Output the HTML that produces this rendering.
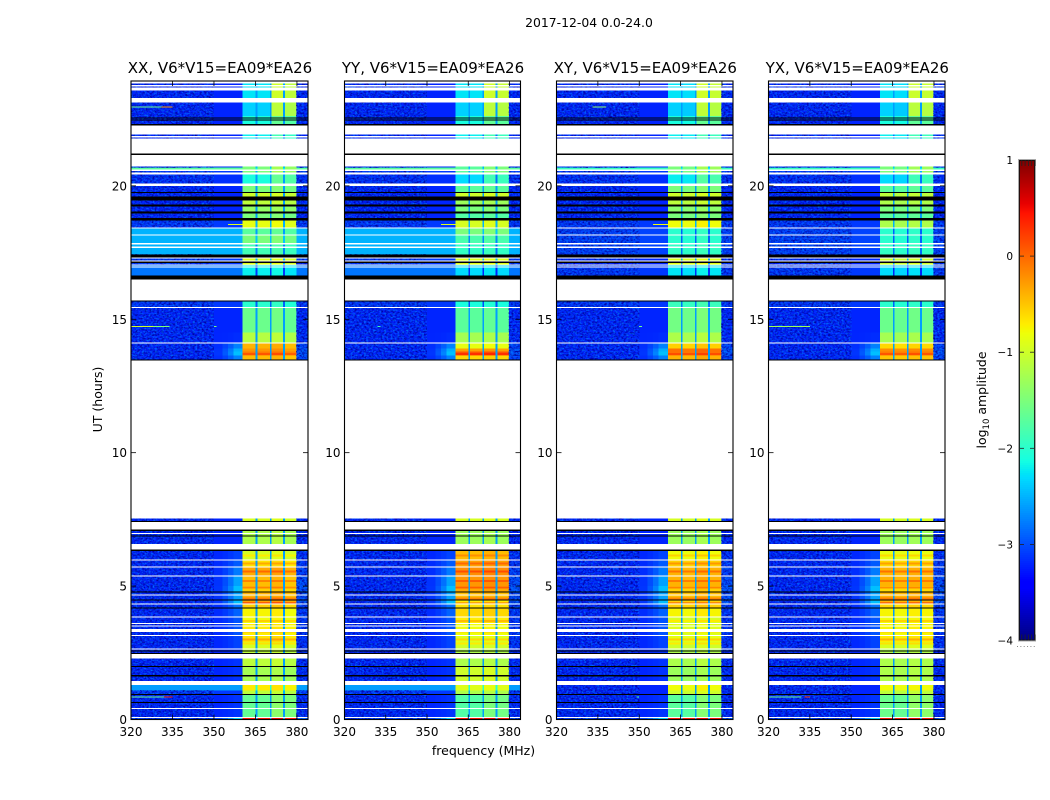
<!DOCTYPE html>
<html>
<head>
<meta charset="utf-8">
<title>2017-12-04 0.0-24.0</title>
<style>
html,body{margin:0;padding:0;background:#fff;}
svg{display:block;}
text{font-family:"DejaVu Sans","Liberation Sans",sans-serif;fill:#000;}
</style>
</head>
<body>
<svg id="figure" xmlns="http://www.w3.org/2000/svg" width="1050" height="800" viewBox="0 0 1050 800">
<defs>
<filter id="speckle-dark" x="0" y="0" width="1" height="1" color-interpolation-filters="sRGB">
<feTurbulence type="fractalNoise" baseFrequency="0.42 0.55" numOctaves="2" seed="7"/>
<feColorMatrix type="matrix" values="0 0 0 0 0  0 0 0 0 0  0 0 0 0 0.62  2.6 0 0 0 -1.05"/>
</filter>
<filter id="speckle-light" x="0" y="0" width="1" height="1" color-interpolation-filters="sRGB">
<feTurbulence type="fractalNoise" baseFrequency="0.45 0.6" numOctaves="2" seed="23"/>
<feColorMatrix type="matrix" values="0 0 0 0 0  0 0 0 0 0.5  0 0 0 0 1  2.2 0 0 0 -1.05"/>
</filter>
</defs>
<rect x="0" y="0" width="1050" height="800" fill="#fff"/>
<text x="589" y="27" font-size="12.4" text-anchor="middle">2017-12-04 0.0-24.0</text>
<text x="483.5" y="755" font-size="12.5" text-anchor="middle">frequency (MHz)</text>
<text x="0" y="0" font-size="12.5" text-anchor="middle" transform="translate(102,399.5) rotate(-90)">UT (hours)</text>
<text x="0" y="0" font-size="12.5" text-anchor="middle" transform="translate(986,400) rotate(-90)">log<tspan font-size="8.5" dy="3">10</tspan><tspan dy="-3"> amplitude</tspan></text>
<g id="panels"></g>
<g id="colorbar"></g>
</svg>
<script>
// ---- chart data (log10 amplitude, UT in hours, frequency in MHz) ----
const polarizations = ["XX", "YY", "XY", "YX"];
const xTicks = [320, 335, 350, 365, 380];
const yTicks = [0, 5, 10, 15, 20];
const colorbarTicks = [1, 0, -1, -2, -3, -4];

// Frequency column edges: low band, roll-up, four sub-bands separated by gaps, high band
const freqEdges = [320, 345, 350, 353, 355, 357, 360.4, 365.1, 365.7, 370.2, 370.8, 374.9, 375.6, 379.8, 384];
const columnKind = ["bg", "bg", "bg", "bg", "bg", "bg", "s0", "gap", "s1", "gap", "s2", "gap", "s3", "hi"];
const columnRollUp = [0, 0, 0.1, 0.3, 0.55, 0.9, 0, 0, 0, 0, 0, 0, 0, 0.3];

// Time segments with a constant level (contiguous edges)
const levelUT = [0, 0.06, 0.96, 1.09, 1.44, 2.01, 2.66, 2.9, 3.14, 3.61, 3.86, 4.2, 4.35, 4.49, 4.8, 5.0, 5.4, 5.7, 6.0, 6.31, 7.06, 7.53, 13.46, 13.635, 13.785, 13.91, 14.13, 14.5, 15.42, 16.635, 17.06, 17.435, 17.85, 18.15, 18.435, 18.8, 19.035, 19.3, 19.6, 19.77, 20.09, 20.51, 20.61, 20.68, 20.73, 21.77, 22.31, 22.62, 23.12, 23.93];
const backgroundCo = [-3.1, -3.2, -3.1, -2.6, -3.2, -3.2, -3.2, -3.2, -3.2, -3.2, -3.2, -3.2, -3.2, -3.2, -3.2, -3.2, -3.2, -3.2, -3.2, -3.2, -3.2, -3.2, -3.2, -3.2, -3.2, -3.2, -3.2, -3.2, -3.1, -2.8, -3.1, -2.5, -2.5, -2.5, -3.1, -3.2, -3.2, -3.2, -3.2, -3.2, -3.15, -3.1, -1.7, -3.2, -3.2, -3.2, -3.2, -3.2, -3.2];
const backgroundCross = [-3.1, -3.2, -3.2, -3.2, -3.2, -3.2, -3.2, -3.2, -3.2, -3.2, -3.2, -3.2, -3.2, -3.2, -3.2, -3.2, -3.2, -3.2, -3.2, -3.2, -3.2, -3.2, -3.2, -3.2, -3.2, -3.2, -3.2, -3.2, -3.1, -3.1, -3.2, -3.05, -3.05, -3.05, -3.1, -3.2, -3.2, -3.2, -3.2, -3.2, -3.15, -3.1, -1.9, -3.2, -3.2, -3.2, -3.2, -3.2, -3.2];
const bandXX = [0.45, -1.45, -1.1, -0.7, -1.25, -1.1, -0.95, -0.65, -0.7, -0.8, -0.75, -0.55, -0.3, -0.4, -0.55, -0.45, -0.35, -0.65, -0.95, -1.2, -0.95, -1.5, -0.45, -0.1, -0.25, -0.4, -1.15, -1.6, -2.0, -2.2, -0.9, -1.85, -1.5, -1.7, -0.85, -1.5, -1.35, -1.1, -1.0, -1.5, -1.7, -1.3, -1.3, -1.3, -1.8, -1.9, -1.7, -1.15, -1.05];
const bandYY = [0.45, -1.55, -1.2, -0.9, -1.0, -1.2, -1.0, -0.9, -0.8, -0.7, -0.6, -0.65, -0.7, -0.45, -0.35, -0.25, -0.2, -0.3, -0.45, -1.3, -0.95, -1.5, -0.6, 0.1, -0.3, -0.85, -1.25, -1.7, -2.1, -2.3, -0.9, -1.95, -1.8, -1.5, -0.95, -1.75, -1.5, -1.3, -1.0, -1.7, -1.9, -1.5, -1.5, -1.5, -1.8, -1.9, -1.7, -1.15, -1.05];
const bandXY = [0.45, -1.5, -1.0, -0.8, -1.3, -1.2, -1.0, -0.85, -0.9, -0.95, -0.75, -0.55, -0.55, -0.45, -0.55, -0.4, -0.4, -0.55, -0.8, -1.3, -0.95, -1.5, -0.4, -0.05, -0.05, -0.55, -1.2, -1.55, -1.9, -2.25, -0.9, -1.95, -2.0, -2.0, -0.8, -1.5, -1.4, -1.1, -1.0, -1.5, -1.8, -1.3, -1.3, -1.3, -1.8, -1.9, -1.7, -1.15, -1.05];
const bandYX = [0.45, -1.4, -1.1, -0.8, -1.2, -1.2, -0.95, -0.7, -0.75, -0.8, -0.75, -0.6, -0.4, -0.4, -0.6, -0.4, -0.4, -0.6, -0.85, -1.3, -0.95, -1.5, -0.5, -0.1, -0.2, -0.6, -1.25, -1.6, -2.0, -2.3, -1.0, -1.95, -2.0, -2.0, -1.2, -1.7, -1.5, -1.2, -1.1, -1.7, -1.9, -1.3, -1.3, -1.3, -1.8, -1.9, -1.7, -1.15, -1.05];
const rollUpLevel = [1.0, 0.1, 0, 0, 0.1, 0.1, 0.2, 0.2, 0.3, 0.3, 0.4, 0.5, 1.0, 0.8, 1.0, 0.8, 0.55, 0.35, 0.2, 0, 0, 0, 0.6, 1.0, 0.9, 0.6, 0.05, 0, 0, 0, 0, 0, 0, 0, 0, 0, 0, 0, 0, 0, 0, 0, 0, 0, 0, 0, 0, 0, 0];
const lowerSubbandOffset = [0, -0.2, 0, 0, 0, 0, 0, 0, 0, 0, 0, 0, 0, 0, 0, 0, 0, 0, 0, 0, 0, 0, 0, 0, 0, 0, 0, 0, 0, 0, 0, 0, 0, 0, 0, 0, 0, 0, 0, 0, -0.4, -0.2, -0.2, -0.2, 0, -0.3, -0.4, -1.2, -1.2];

// Sub-band gain offsets per polarization
const subbandOffsetXX = [0, 0, 0.05, -0.05];
const subbandOffsetYY = [0, 0, 0.05, 0];
const subbandOffsetXY = [0, -0.03, 0.06, 0];
const subbandOffsetYX = [0, -0.03, 0.03, 0];

// Short bright time stripes inside the pass-band
const stripeUT = [2.85, 3.0, 3.3, 3.7, 4.38, 4.55, 4.95, 5.2, 5.55, 5.85, 6.15, 13.7];
const stripeBoost = [0.3, 0.3, 0.25, 0.25, 0.35, 0.3, 0.4, 0.3, 0.35, 0.3, 0.25, 0.2];

// Time ranges with no data (white)
const noDataStart = [0.05, 0.41, 1.29, 2.29, 2.64, 3.14, 3.275, 3.50, 3.575, 3.84, 4.325, 4.65, 5.375, 5.70, 5.96, 6.375, 6.95, 7.125, 7.525, 14.10, 15.42, 15.71, 16.95, 17.02, 17.16, 17.275, 17.67, 17.81, 18.15, 18.40, 20.0, 20.43, 20.56, 20.73, 21.21, 21.81, 21.93, 23.12, 23.58, 23.73, 23.83];
const noDataEnd = [0.09, 0.44, 1.44, 2.46, 2.66, 3.16, 3.40, 3.525, 3.61, 3.86, 4.35, 4.69, 5.40, 5.74, 6.0, 6.575, 6.99, 7.40, 13.46, 14.125, 15.46, 16.485, 16.985, 17.06, 17.2, 17.31, 17.735, 17.85, 18.185, 18.435, 20.085, 20.51, 20.61, 21.16, 21.77, 21.86, 22.26, 23.30, 23.68, 23.78, 23.93];

// Time ranges flagged to zero (black)
const flaggedStart = [0.64, 0.94, 1.62, 1.975, 2.46, 2.55, 4.175, 4.46, 4.76, 6.31, 6.875, 7.06, 7.40, 13.46, 15.67, 16.485, 17.11, 17.31, 18.70, 18.96, 19.235, 19.46, 19.735, 21.16, 22.26, 22.46, 22.53];
const flaggedEnd = [0.66, 0.96, 1.66, 2.01, 2.49, 2.59, 4.20, 4.49, 4.80, 6.375, 6.90, 7.125, 7.44, 13.485, 15.71, 16.635, 17.16, 17.435, 18.80, 19.035, 19.30, 19.61, 19.77, 21.21, 22.31, 22.49, 22.56];

// Narrow RFI streaks
const rfiPol = ["XX", "XX", "XX", "XX", "XX", "XX", "YX", "YX", "YX", "XY", "XX", "YY", "XY", "YY", "XY", "XX", "XY"];
const rfiUT = [22.96, 22.96, 14.72, 14.72, 0.85, 0.85, 0.85, 0.85, 14.72, 22.96, 18.55, 18.55, 18.55, 14.72, 14.72, 14.72, 0.85];
const rfiFreqStart = [320, 331, 320, 328, 320, 332, 320, 333, 320, 333, 355, 355, 355, 332, 350, 350, 349];
const rfiFreqEnd = [331, 335, 328, 334, 332, 335, 332, 335, 335, 338, 360.4, 360.4, 360.4, 333, 351, 351, 350];
const rfiLevel = [-1.6, -0.2, -1.0, -1.5, -1.6, 0.3, -1.6, 0.2, -1.3, -1.4, -0.9, -0.9, -0.8, -1.9, -1.6, -1.5, -1.8];

// ---- axis geometry ----
const bandByPol = { XX: bandXX, YY: bandYY, XY: bandXY, YX: bandYX };
const offsetByPol = { XX: subbandOffsetXX, YY: subbandOffsetYY, XY: subbandOffsetXY, YX: subbandOffsetYX };
const backgroundByPol = { XX: backgroundCo, YY: backgroundCo, XY: backgroundCross, YX: backgroundCross };
const panelBoxes = { XX: [131, 308], YY: [344.5, 520.5], XY: [556.5, 733], YX: [768.5, 945] };
const plotTop = 81, plotBottom = 719.5;
const freqMin = 320, freqMax = 384, utMin = 0, utMax = 23.93;
const SVGNS = "http://www.w3.org/2000/svg";

function yScale(ut) { return plotBottom - (ut - utMin) / (utMax - utMin) * (plotBottom - plotTop); }
function xScale(pol, f) {
  const b = panelBoxes[pol];
  return b[0] + (f - freqMin) / (freqMax - freqMin) * (b[1] - b[0]);
}
function lerp(a, b, t) { return a + (b - a) * t; }
function jetChannel(t, pts) {
  if (t <= pts[0][0]) return pts[0][1];
  for (let i = 1; i < pts.length; i++) {
    if (t <= pts[i][0]) return lerp(pts[i - 1][1], pts[i][1], (t - pts[i - 1][0]) / (pts[i][0] - pts[i - 1][0]));
  }
  return pts[pts.length - 1][1];
}
function jet(v) {
  const t = Math.max(0, Math.min(1, (v + 4) / 5));
  const r = jetChannel(t, [[0, 0], [0.35, 0], [0.66, 1], [0.89, 1], [1, 0.5]]);
  const g = jetChannel(t, [[0, 0], [0.125, 0], [0.375, 1], [0.64, 1], [0.91, 0], [1, 0]]);
  const b = jetChannel(t, [[0, 0.5], [0.11, 1], [0.34, 1], [0.65, 0], [1, 0]]);
  return "rgb(" + Math.round(r * 255) + "," + Math.round(g * 255) + "," + Math.round(b * 255) + ")";
}
function make(tag, attrs, parent) {
  const node = document.createElementNS(SVGNS, tag);
  Object.keys(attrs).forEach(function (k) { node.setAttribute(k, attrs[k]); });
  parent.appendChild(node);
  return node;
}
function cellValue(pol, row, col) {
  const bg = backgroundByPol[pol][row];
  const kind = columnKind[col];
  if (kind === "bg" || kind === "hi") {
    const roll = rollUpLevel[row] * columnRollUp[col];
    return bg + roll * 0.85;
  }
  if (kind === "gap") return Math.min(bandByPol[pol][row] - 0.9, bg + 0.6);
  const sub = Number(kind.charAt(1));
  let v = bandByPol[pol][row] + offsetByPol[pol][sub];
  if (sub < 2) v += lowerSubbandOffset[row];
  return v;
}
function rowAt(ut) {
  for (let r = 0; r < levelUT.length - 1; r++) {
    if (ut >= levelUT[r] && ut < levelUT[r + 1]) return r;
  }
  return 0;
}
function drawSpeckleRow(pol, row, f0, f1, parent) {
  const x0 = xScale(pol, f0);
  const x1 = xScale(pol, f1);
  const y0 = yScale(levelUT[row + 1]);
  const h = yScale(levelUT[row]) - y0;
  const dark = make("rect", { x: x0, y: y0, width: x1 - x0, height: h, fill: "#000", filter: "url(#speckle-dark)" }, parent);
  
  
  const light = make("rect", { x: x0, y: y0, width: x1 - x0, height: h, fill: "#000", filter: "url(#speckle-light)" }, parent);
  
  
}

function drawPanel(pol, parent) {
  const box = panelBoxes[pol];
  const group = make("g", {}, parent);
  
  

  const cells = make("g", { "shape-rendering": "crispEdges" }, group);
  
  
  for (let row = 0; row < levelUT.length - 1; row++) {
    const y0 = yScale(levelUT[row + 1]);
    const y1 = yScale(levelUT[row]);
    for (let col = 0; col < freqEdges.length - 1; col++) {
      const x0 = xScale(pol, freqEdges[col]);
      const x1 = xScale(pol, freqEdges[col + 1]);
      const cell = make("rect", { x: x0, y: y0, width: x1 - x0, height: y1 - y0, fill: jet(cellValue(pol, row, col)) }, cells);
      
      
    }
  }
  for (let i = 0; i < stripeUT.length; i++) {
    const row = rowAt(stripeUT[i]);
    for (let col = 0; col < freqEdges.length - 1; col++) {
      if (columnKind[col].charAt(0) !== "s") continue;
      const x0 = xScale(pol, freqEdges[col]);
      const x1 = xScale(pol, freqEdges[col + 1]);
      const stripe = make("rect", { x: x0, y: yScale(stripeUT[i]) - 0.75, width: x1 - x0, height: 2, fill: jet(cellValue(pol, row, col) + stripeBoost[i]) }, cells);
      
      
    }
  }
  for (let row = 0; row < levelUT.length - 1; row++) {
    if (backgroundByPol[pol][row] > -2.9) continue;
    if (levelUT[row + 1] - levelUT[row] > 3) continue;
    drawSpeckleRow(pol, row, 320, 350, cells);
    drawSpeckleRow(pol, row, 379.8, 384, cells);
  }
  for (let i = 0; i < rfiPol.length; i++) {
    if (rfiPol[i] !== pol) continue;
    const x0 = xScale(pol, rfiFreqStart[i]);
    const x1 = xScale(pol, rfiFreqEnd[i]);
    const streak = make("rect", { x: x0, y: yScale(rfiUT[i]) - 0.5, width: x1 - x0, height: 1, fill: jet(rfiLevel[i]) }, cells);
    
    
  }
  for (let i = 0; i < noDataStart.length; i++) {
    const top = yScale(noDataEnd[i]);
    const h = Math.max(1, yScale(noDataStart[i]) - top);
    const gap = make("rect", { x: box[0], y: top, width: box[1] - box[0], height: h, fill: "#fff" }, cells);
    
    
  }
  for (let i = 0; i < flaggedStart.length; i++) {
    const top = yScale(flaggedEnd[i]);
    const h = Math.max(1, yScale(flaggedStart[i]) - top);
    const flagged = make("rect", { x: box[0], y: top, width: box[1] - box[0], height: h, fill: "#000" }, cells);
    
    
  }

  xTicks.forEach(function (t) {
    const x = xScale(pol, t);
    const bottomTick = make("line", { x1: x, x2: x, y1: plotBottom, y2: plotBottom - 5, stroke: "#000", "stroke-width": 0.8 }, group);
    
    
    const topTick = make("line", { x1: x, x2: x, y1: plotTop, y2: plotTop + 5, stroke: "#000", "stroke-width": 0.8 }, group);
    
    
    const label = make("text", { x: x, y: 736, "font-size": 12, "text-anchor": "middle" }, group);
    
    
    label.textContent = String(t);
  });
  yTicks.forEach(function (t) {
    const y = yScale(t);
    const leftTick = make("line", { x1: box[0], x2: box[0] + 5, y1: y, y2: y, stroke: "#000", "stroke-width": 0.8 }, group);
    
    
    const rightTick = make("line", { x1: box[1], x2: box[1] - 5, y1: y, y2: y, stroke: "#000", "stroke-width": 0.8 }, group);
    
    
    const label = make("text", { x: box[0] - 4, y: y + 4.5, "font-size": 12, "text-anchor": "end" }, group);
    
    
    label.textContent = String(t);
  });

  const frame = make("rect", { x: box[0], y: plotTop, width: box[1] - box[0], height: plotBottom - plotTop, fill: "none", stroke: "#000", "stroke-width": 1.1 }, group);
  
  

  const title = make("text", { x: (box[0] + box[1]) / 2 + 0.5, y: 73, "font-size": 15, "text-anchor": "middle" }, group);
  
  
  title.textContent = pol + ", V6*V15=EA09*EA26";
}

function drawColorbar(parent) {
  const left = 1019, right = 1035, top = 160, bottom = 640.5;
  const vMin = -4, vMax = 1;
  function cbY(v) { return bottom - (v - vMin) / (vMax - vMin) * (bottom - top); }
  const strip = make("g", { "shape-rendering": "crispEdges" }, parent);
  
  
  const levels = 240;
  for (let i = 0; i < levels; i++) {
    const v0 = vMin + (vMax - vMin) * i / levels;
    const v1 = vMin + (vMax - vMin) * (i + 1) / levels;
    const seg = make("rect", { x: left, y: cbY(v1), width: right - left, height: cbY(v0) - cbY(v1) + 0.5, fill: jet((v0 + v1) / 2) }, strip);
    
    
  }
  const outer = make("rect", { x: left - 0.5, y: top - 0.5, width: right - left + 1, height: bottom - top + 1, fill: "none", stroke: "#aaa", "stroke-width": 1 }, parent);
  
  
  const inner = make("rect", { x: left + 0.5, y: top + 0.5, width: right - left - 1, height: bottom - top - 1, fill: "none", stroke: "#111", "stroke-width": 0.9 }, parent);
  
  

  colorbarTicks.forEach(function (t) {
    const y = cbY(t);
    if (t !== vMin && t !== vMax) {
      const lt = make("line", { x1: left, x2: left + 5, y1: y, y2: y, stroke: "#222", "stroke-width": 0.8 }, parent);
      
      
      const rt = make("line", { x1: right - 5, x2: right, y1: y, y2: y, stroke: "#222", "stroke-width": 0.8 }, parent);
      
      
    }
    const label = make("text", { x: 1013, y: y + 4, "font-size": 10.5, "text-anchor": "end" }, parent);
    
    
    label.textContent = t < 0 ? "\u2212" + Math.abs(t) : String(t);
  });
  for (let k = 0; k < 5; k++) {
    const x = left + 3.3 * (k + 1) - 0.5;
    const tm = make("line", { x1: x, x2: x, y1: top, y2: top + 6, stroke: "#222", "stroke-width": 0.8 }, parent);
    
    
    const bm = make("line", { x1: x, x2: x, y1: bottom - 6, y2: bottom, stroke: "#222", "stroke-width": 0.8 }, parent);
    
    
  }
  for (let k = 0; k < 6; k++) {
    const dot = make("rect", { x: 1017 + 3.35 * k, y: 646, width: 1, height: 1, fill: "#888" }, parent);
    
    
  }
}

const panelsRoot = document.getElementById("panels");
polarizations.forEach(function (pol) { drawPanel(pol, panelsRoot); });
drawColorbar(document.getElementById("colorbar"));
</script>
</body>
</html>
